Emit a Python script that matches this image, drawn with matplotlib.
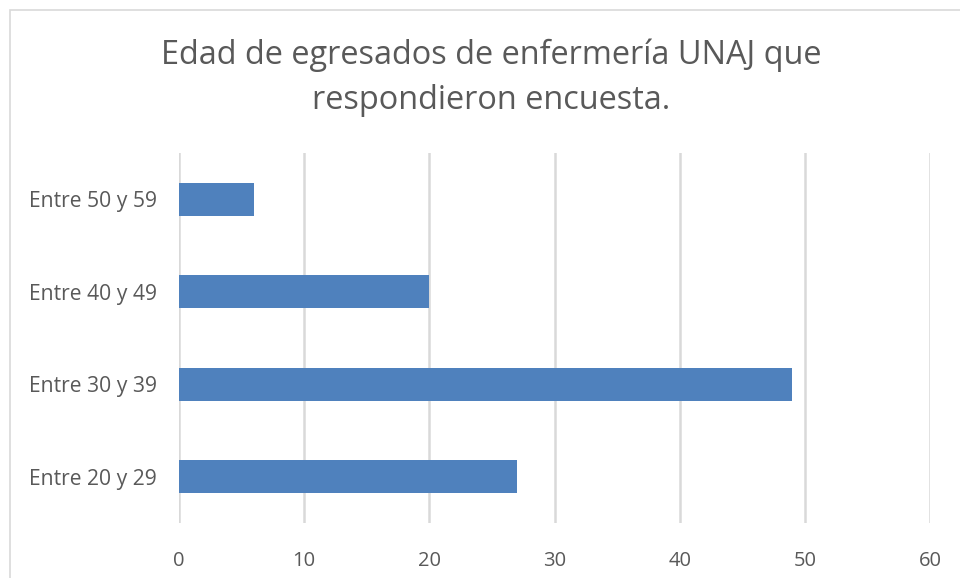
import matplotlib
matplotlib.use('Agg')
import matplotlib.pyplot as plt
from matplotlib.patches import Rectangle

# data
categorias = ['Entre 20 y 29', 'Entre 30 y 39', 'Entre 40 y 49', 'Entre 50 y 59']
cantidad = [27, 49, 20, 6]
ticks_x = [0, 10, 20, 30, 40, 50, 60]

plt.rcParams['font.family'] = ['Open Sans', 'DejaVu Sans']
gris = '#595959'

fig = plt.figure(figsize=(9.6, 5.78), dpi=100)
ax = fig.add_axes([179/960, (578-523)/578, (930-179)/960, (523-153)/578])

ax.barh(range(len(categorias)), cantidad, height=0.36, color='#4f81bd', zorder=3)
ax.set_xlim(0, 60)
ax.set_ylim(-0.5, len(categorias) - 0.5)
ax.set_xticks(ticks_x)
ax.set_xticklabels([str(t) for t in ticks_x])
ax.set_yticks(range(len(categorias)))
ax.set_yticklabels(categorias)
ax.grid(axis='x', color='#d9d9d9', linewidth=1.8, zorder=0)
for s in ax.spines.values():
    s.set_visible(False)
ax.tick_params(axis='both', length=0, labelsize=14.5, colors=gris)
ax.tick_params(axis='x', pad=20)
ax.tick_params(axis='y', labelsize=15.2, pad=16)

fig.text(491/960, 1 - 78/578, 'Edad de egresados de enfermería UNAJ que\nrespondieron encuesta.',
         ha='center', va='center', fontsize=23.4, color=gris, linespacing=1.48)

# borde del gráfico
fig.patches.append(Rectangle((10/960, -0.1), 2, (568/578) + 0.1, transform=fig.transFigure,
                             fill=False, edgecolor='#d9d9d9', linewidth=1.2))

fig.savefig('out.png', dpi=100)
